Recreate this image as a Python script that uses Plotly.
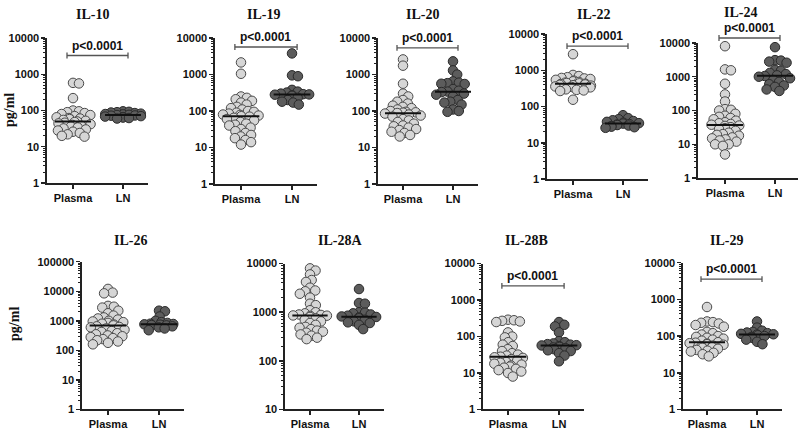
import numpy as np
import plotly.graph_objects as go

W, H = 800, 432

# ---------------- data ----------------
cytokines = ["IL-10", "IL-19", "IL-20", "IL-22", "IL-24", "IL-26", "IL-28A", "IL-28B", "IL-29"]
groups = ["Plasma", "LN"]

il10_plasma = [580, 560, 220, 100, 95, 90, 85, 80, 75, 70, 65, 62, 60, 58, 55, 52, 50, 48, 46, 44, 42, 40, 38, 36, 34, 32, 30, 28, 26, 24, 22, 20, 19]
il10_ln = [95, 92, 90, 88, 85, 82, 80, 78, 76, 75, 73, 72, 70, 68, 66, 64, 62, 60]

il19_plasma = [2150, 1050, 250, 230, 210, 190, 170, 150, 130, 120, 110, 100, 95, 90, 85, 80, 78, 75, 72, 70, 65, 60, 55, 50, 45, 42, 40, 35, 32, 28, 25, 22, 20, 18, 16, 14, 12]
il19_ln = [3800, 950, 900, 380, 340, 320, 300, 290, 285, 280, 270, 260, 230, 200, 180, 170, 150]

il20_plasma = [2600, 1750, 560, 300, 250, 200, 180, 160, 140, 130, 120, 110, 100, 95, 92, 90, 88, 85, 80, 75, 70, 60, 55, 50, 45, 40, 38, 35, 32, 30, 27, 25, 22, 20]
il20_ln = [2300, 1300, 1000, 650, 600, 580, 560, 550, 400, 360, 340, 330, 300, 280, 250, 200, 180, 170, 150, 110, 100, 95]

il22_plasma = [2800, 750, 700, 650, 620, 600, 580, 550, 520, 500, 480, 460, 450, 440, 430, 420, 410, 400, 390, 380, 360, 350, 340, 320, 300, 290, 280, 270, 155]
il22_ln = [58, 48, 45, 42, 40, 38, 36, 35, 34, 33, 32, 31, 30, 29, 28, 27, 26]

il24_plasma = [8000, 1650, 1550, 620, 300, 185, 110, 105, 100, 80, 70, 65, 60, 55, 50, 45, 42, 40, 38, 36, 35, 32, 30, 28, 25, 22, 20, 19, 18, 16, 15, 14, 13, 12, 10, 10, 9, 5]
il24_ln = [7500, 3100, 3000, 2800, 2600, 1600, 1500, 1300, 1200, 1100, 1050, 1000, 900, 800, 700, 600, 550, 500, 420, 380]

il26_plasma = [12000, 9000, 8500, 3200, 3000, 2800, 2200, 1800, 1500, 1300, 1200, 1100, 1000, 950, 900, 850, 800, 750, 700, 650, 620, 600, 550, 500, 450, 420, 380, 350, 320, 300, 280, 260, 240, 220, 200, 180, 160]
il26_ln = [2200, 2100, 1400, 1000, 900, 850, 800, 780, 760, 740, 720, 700, 650, 600, 550, 480]

il28a_plasma = [8000, 7200, 6000, 4600, 4200, 3200, 2800, 2700, 2400, 2000, 1500, 1400, 1100, 1000, 950, 900, 880, 860, 850, 840, 800, 750, 700, 650, 600, 550, 500, 480, 450, 420, 400, 380, 350, 330, 300, 280]
il28a_ln = [3000, 1550, 1500, 1000, 980, 950, 900, 850, 820, 800, 780, 750, 700, 650, 620, 600, 550, 450]

il28b_plasma = [290, 280, 270, 260, 250, 130, 100, 95, 70, 60, 55, 45, 40, 35, 32, 30, 28, 27, 26, 24, 22, 20, 19, 18, 17, 16, 15, 14, 13, 12, 11, 10, 8]
il28b_ln = [250, 210, 190, 130, 75, 70, 65, 62, 60, 58, 57, 55, 52, 50, 48, 45, 42, 40, 35, 30, 21]

il29_plasma = [620, 250, 240, 230, 220, 200, 180, 130, 120, 110, 100, 95, 90, 85, 80, 75, 68, 66, 64, 62, 60, 58, 55, 52, 50, 48, 45, 42, 40, 38, 35, 32, 28]
il29_ln = [250, 170, 140, 130, 125, 120, 115, 112, 110, 105, 100, 95, 90, 80, 70, 60]

plasma_values = [il10_plasma, il19_plasma, il20_plasma, il22_plasma, il24_plasma,
                 il26_plasma, il28a_plasma, il28b_plasma, il29_plasma]
ln_values = [il10_ln, il19_ln, il20_ln, il22_ln, il24_ln,
             il26_ln, il28a_ln, il28b_ln, il29_ln]

p_label = "p<0.0001"
bracket_level = [3300, 5700, 5400, 4700, 14000, None, None, 2450, 3550]
decade_range = [(0, 4), (0, 4), (0, 4), (0, 4), (0, 4), (0, 5), (1, 4), (0, 4), (0, 4)]
tick_labels = {k: str(10 ** k) for k in range(0, 6)}
y_label = "pg/ml"

# ---------------- geometry (pixels) ----------------
# y-axis x, Plasma x, LN x, axis end x, top y, bottom y
geom = [
    (47, 73, 123, 148, 33, 182),
    (215, 241, 292, 317, 33, 183),
    (378, 403, 453, 478, 33, 183),
    (547, 573, 623, 648, 29, 178),
    (698, 725, 775, 798, 38, 177),
    (82, 108, 159, 184, 263, 415),
    (285, 310, 359, 384, 265, 415),
    (483, 508, 559, 584, 265, 415),
    (683, 707, 757, 782, 264, 415),
]
title_pos = [(92, 9), (263, 9), (422, 9), (593, 9), (740, 7),
             (130, 241), (340, 241), (526, 241), (726, 241)]
ylabel_pos = [(9, 107), (15, 327)]

PL_FILL, PL_LINE = "#d6d6d6", "#4a4a4a"
LN_FILL, LN_LINE = "#5c5c5c", "#2a2a2a"
AX = "#222222"
SANS = "Liberation Sans, Arial, sans-serif"
SERIF = "Liberation Serif, Times New Roman, serif"
MSIZE = 9.5
COLL = 6.0
MAXW = 18.0


def swarm(vals, ylo, yhi, hpx, d, maxw):
    y = (np.log10(np.asarray(vals, float)) - ylo) / (yhi - ylo) * hpx
    order = np.argsort(-y)
    xs = np.zeros(len(y))
    placed = []
    grid = list(np.arange(-maxw, maxw + 0.01, 1.0))
    for i in order:
        forb = []
        for xj, yj in placed:
            dy = abs(y[i] - yj)
            if dy < d:
                dx = np.sqrt(d * d - dy * dy)
                forb.append((xj - dx, xj + dx))
        cands = [0.0] + [a for a, b in forb] + [b for a, b in forb]
        cands = [c for c in cands if abs(c) <= maxw] + grid
        best = None
        for c in cands:
            hits = sum(1 for a, b in forb if a + 1e-9 < c < b - 1e-9)
            key = (hits, abs(c), -c)
            if best is None or key < best[0]:
                best = (key, c)
        xs[i] = best[1]
        placed.append((xs[i], y[i]))
    return xs


fig = go.Figure()
layout = dict(width=W, height=H, margin=dict(l=0, r=0, t=0, b=0),
              paper_bgcolor="white", plot_bgcolor="white", showlegend=False)
annotations = []
shapes = []

for n in range(9):
    k = n + 1
    ax_x, pl_x, ln_x, end_x, top_y, bot_y = geom[n]
    ppu = ln_x - pl_x
    xr0 = 1 - (pl_x - ax_x) / ppu
    xr1 = 2 + (end_x - ln_x) / ppu
    ylo, yhi = decade_range[n]
    hpx = bot_y - top_y
    xname = "xaxis" if k == 1 else f"xaxis{k}"
    yname = "yaxis" if k == 1 else f"yaxis{k}"
    xref = "x" if k == 1 else f"x{k}"
    yref = "y" if k == 1 else f"y{k}"

    layout[xname] = dict(
        domain=[ax_x / W, end_x / W], range=[xr0, xr1], anchor=yref,
        showline=True, linecolor=AX, linewidth=1.6, showgrid=False, zeroline=False,
        tickvals=[1, 2], ticktext=groups, ticks="outside", ticklen=4, tickwidth=1.5,
        tickcolor=AX, tickfont=dict(family=SANS, size=11, color="#111", weight="bold"),
        fixedrange=True,
    )
    tv = [10 ** e for e in range(ylo, yhi + 1)]
    minor_vals = [m * 10 ** e for e in range(ylo, yhi) for m in range(2, 10)]
    layout[yname] = dict(
        domain=[1 - bot_y / H, 1 - top_y / H], type="log", range=[ylo, yhi], anchor=xref,
        showline=True, linecolor=AX, linewidth=1.6, showgrid=False, zeroline=False,
        tickvals=tv, ticktext=[tick_labels[e] for e in range(ylo, yhi + 1)],
        ticks="outside", ticklen=4, tickwidth=1.5, tickcolor=AX,
        tickfont=dict(family=SANS, size=11, color="#111", weight="bold"),
        minor=dict(tickmode="array", tickvals=minor_vals, ticks="outside", ticklen=2,
                   tickwidth=1, tickcolor=AX, showgrid=False),
        fixedrange=True,
    )

    for gi, (vals, fill, line) in enumerate([(plasma_values[n], PL_FILL, PL_LINE),
                                             (ln_values[n], LN_FILL, LN_LINE)]):
        center = gi + 1
        offs = swarm(vals, ylo, yhi, hpx, COLL, MAXW) / ppu
        fig.add_trace(go.Scatter(
            x=center + offs, y=vals, mode="markers", xaxis=xref, yaxis=yref,
            marker=dict(size=MSIZE, color=fill, line=dict(color=line, width=1)),
            cliponaxis=False, hoverinfo="skip"))
    for gi, vals in enumerate([plasma_values[n], ln_values[n]]):
        center = gi + 1
        med = float(np.median(vals))
        fig.add_trace(go.Scatter(
            x=[center - 0.36, center + 0.36], y=[med, med], mode="lines",
            xaxis=xref, yaxis=yref, line=dict(color="#111", width=2), hoverinfo="skip"))

    tx, ty = title_pos[n]
    annotations.append(dict(text=f"<b>{cytokines[n]}</b>", x=tx / W, y=1 - ty / H,
                            xref="paper", yref="paper", showarrow=False,
                            xanchor="center", yanchor="middle",
                            font=dict(family=SERIF, size=14, color="#111")))

    if bracket_level[n] is not None:
        yf = (np.log10(bracket_level[n]) - ylo) / (yhi - ylo)
        xa = (0.88 - xr0) / (xr1 - xr0)
        xb = (2.1 - xr0) / (xr1 - xr0)
        cap = 3.0 / hpx
        xd = f"{xref} domain"
        yd = f"{yref} domain"
        lc = dict(color="#555", width=1.3)
        shapes.append(dict(type="line", xref=xd, yref=yd, x0=xa, x1=xb, y0=yf, y1=yf, line=lc))
        shapes.append(dict(type="line", xref=xd, yref=yd, x0=xa, x1=xa, y0=yf - cap, y1=yf + cap, line=lc))
        shapes.append(dict(type="line", xref=xd, yref=yd, x0=xb, x1=xb, y0=yf - cap, y1=yf + cap, line=lc))
        annotations.append(dict(text=f"<b>{p_label}</b>", xref=xd, yref=yd,
                                x=(xa + xb) / 2, y=yf, yshift=1, showarrow=False,
                                xanchor="center", yanchor="bottom",
                                font=dict(family=SANS, size=12, color="#111")))

for (px, py) in ylabel_pos:
    annotations.append(dict(text=f"<b>{y_label}</b>", x=px / W, y=1 - py / H,
                            xref="paper", yref="paper", showarrow=False, textangle=-90,
                            xanchor="center", yanchor="middle",
                            font=dict(family=SERIF, size=14, color="#111")))

layout["annotations"] = annotations
layout["shapes"] = shapes
fig.update_layout(**layout)
fig.write_html("out.html", config={"displayModeBar": False, "staticPlot": True},
               post_script="document.body.style.margin='0px';document.body.style.padding='0px';")
